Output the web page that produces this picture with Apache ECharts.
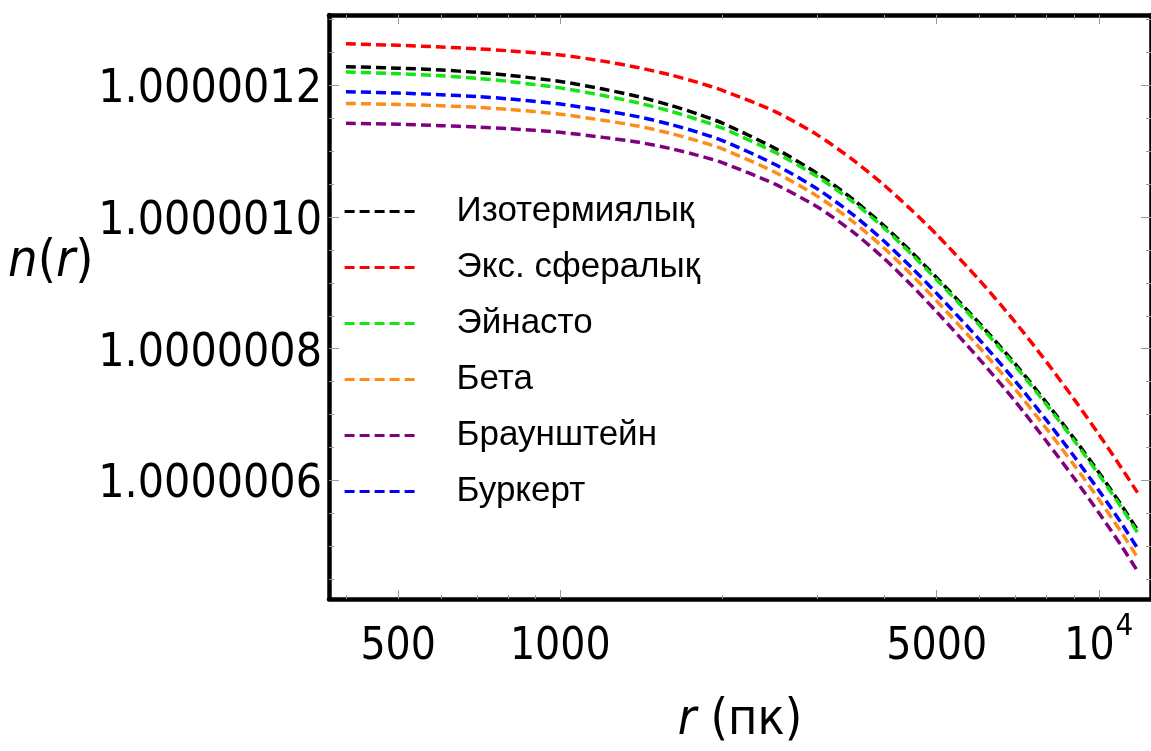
<!DOCTYPE html>
<html>
<head>
<meta charset="utf-8">
<script src="https://cdn.jsdelivr.net/npm/echarts@6/dist/echarts.min.js"></script>
<style>
  html, body { margin: 0; padding: 0; background: #ffffff; }
  #chart { width: 1151px; height: 751px; }
</style>
</head>
<body>
<div id="chart"></div>
<script>
// Radius grid (pc) shared by all profiles
const radii = [400, 500, 600, 700, 800, 1000, 1200, 1400, 1600, 1800, 2000, 2500,
               3000, 3500, 4000, 4500, 5000, 6000, 7000, 8000, 9000, 10000, 11000, 11800];

// Refractive index n(r) for each dark-matter halo profile
const nIsothermal = [1.0000012287, 1.0000012264, 1.0000012236, 1.0000012199, 1.0000012157, 1.0000012062,
                     1.0000011946, 1.0000011829, 1.0000011701, 1.0000011567, 1.0000011429, 1.0000011049,
                     1.0000010664, 1.0000010266, 1.0000009860, 1.0000009460, 1.0000009079, 1.0000008388,
                     1.0000007766, 1.0000007177, 1.0000006634, 1.0000006121, 1.0000005630, 1.0000005245];
const nExpSpherical = [1.0000012634, 1.0000012611, 1.0000012586, 1.0000012559, 1.0000012528, 1.0000012465,
                       1.0000012371, 1.0000012270, 1.0000012162, 1.0000012047, 1.0000011926, 1.0000011608,
                       1.0000011250, 1.0000010866, 1.0000010480, 1.0000010100, 1.0000009734, 1.0000009043,
                       1.0000008400, 1.0000007796, 1.0000007230, 1.0000006699, 1.0000006196, 1.0000005813];
const nEinasto = [1.0000012204, 1.0000012180, 1.0000012148, 1.0000012109, 1.0000012063, 1.0000011964,
                  1.0000011848, 1.0000011734, 1.0000011611, 1.0000011482, 1.0000011351, 1.0000010986,
                  1.0000010616, 1.0000010228, 1.0000009829, 1.0000009429, 1.0000009049, 1.0000008358,
                  1.0000007736, 1.0000007147, 1.0000006604, 1.0000006088, 1.0000005594, 1.0000005206];
const nBeta = [1.0000011728, 1.0000011713, 1.0000011692, 1.0000011668, 1.0000011638, 1.0000011564,
               1.0000011472, 1.0000011381, 1.0000011274, 1.0000011158, 1.0000011036, 1.0000010685,
               1.0000010319, 1.0000009928, 1.0000009522, 1.0000009116, 1.0000008726, 1.0000008018,
               1.0000007381, 1.0000006782, 1.0000006231, 1.0000005712, 1.0000005217, 1.0000004826];
const nBraunstein = [1.0000011426, 1.0000011411, 1.0000011390, 1.0000011369, 1.0000011345, 1.0000011288,
                     1.0000011212, 1.0000011137, 1.0000011043, 1.0000010939, 1.0000010827, 1.0000010504,
                     1.0000010156, 1.0000009771, 1.0000009365, 1.0000008956, 1.0000008560, 1.0000007843,
                     1.0000007197, 1.0000006589, 1.0000006032, 1.0000005508, 1.0000005011, 1.0000004620];
const nBurkert = [1.0000011905, 1.0000011885, 1.0000011861, 1.0000011832, 1.0000011798, 1.0000011718,
                  1.0000011620, 1.0000011523, 1.0000011411, 1.0000011291, 1.0000011164, 1.0000010803,
                  1.0000010429, 1.0000010035, 1.0000009629, 1.0000009226, 1.0000008841, 1.0000008139,
                  1.0000007506, 1.0000006910, 1.0000006362, 1.0000005846, 1.0000005354, 1.0000004968];

const seriesNames = ['Изотермиялық', 'Экс. сфералық', 'Эйнасто', 'Бета', 'Браунштейн', 'Буркерт'];

// Tick values
const xMajorTicks = [500, 1000, 5000, 10000];
const xMinorTicks = [400, 600, 700, 800, 900, 2000, 3000, 4000, 6000, 7000, 8000, 9000];
const yMajorTicks = [1.0000006, 1.0000008, 1.0000010, 1.0000012];
const yMinorTicks = [1.00000045, 1.00000050, 1.00000055, 1.00000065, 1.00000070, 1.00000075,
                     1.00000085, 1.00000090, 1.00000095, 1.00000105, 1.00000110, 1.00000115,
                     1.00000125, 1.00000130];

const X_MIN = 372, X_MAX = 12500;
const Y_MIN = 1.00000041962, Y_MAX = 1.00000130717;

const tickFont = '"DejaVu Sans Condensed", "DejaVu Sans", sans-serif';
const textFont = '"Liberation Sans", Arial, sans-serif';

const palette = {
  'Изотермиялық': '#000000',
  'Экс. сфералық': '#ff0000',
  'Эйнасто': '#11e611',
  'Бета': '#ff8c1a',
  'Браунштейн': '#800080',
  'Буркерт': '#0000ff'
};
const profiles = [nIsothermal, nExpSpherical, nEinasto, nBeta, nBraunstein, nBurkert];

const frameLine = { show: true, onZero: false, lineStyle: { color: '#000', width: 4.5 } };
const noLine = { show: false };

function xAxisDef(position, ticks, len, withLine, withLabels) {
  const ax = {
    type: 'log',
    logBase: 10,
    position: position,
    min: X_MIN,
    max: X_MAX,
    axisLine: withLine ? frameLine : noLine,
    splitLine: { show: false },
    minorTick: { show: false },
    axisTick: { show: true, inside: true, length: len, customValues: ticks,
                lineStyle: { color: '#9a9a9a', width: 1 } },
    axisLabel: { show: false }
  };
  if (withLabels) {
    ax.axisLabel = {
      show: true,
      customValues: ticks,
      margin: 12,
      color: '#000',
      formatter: function (v) {
        const r = Math.round(v);
        if (r === 10000) return '{b|10}{s|4}';
        return '{b|' + r + '}';
      },
      rich: {
        b: { fontFamily: tickFont, fontSize: 44, lineHeight: 74, color: '#000' },
        s: { fontFamily: tickFont, fontSize: 31, verticalAlign: 'top', color: '#000', padding: [0, 0, 0, 1] }
      }
    };
    ax.name = '{i|r} (пк)';
    ax.nameLocation = 'middle';
    ax.nameGap = 97;
    ax.nameTextStyle = {
      fontFamily: tickFont, fontSize: 50, color: '#000',
      rich: { i: { fontFamily: tickFont, fontSize: 50, fontStyle: 'italic', color: '#000' } }
    };
  }
  return ax;
}

function yAxisDef(position, ticks, len, withLine, withLabels) {
  const ax = {
    type: 'value',
    position: position,
    min: Y_MIN,
    max: Y_MAX,
    scale: true,
    axisLine: withLine ? frameLine : noLine,
    splitLine: { show: false },
    minorTick: { show: false },
    axisTick: { show: true, inside: true, length: len, customValues: ticks,
                lineStyle: { color: '#9a9a9a', width: 1 } },
    axisLabel: { show: false }
  };
  if (withLabels) {
    ax.axisLabel = {
      show: true,
      customValues: ticks,
      margin: 7,
      color: '#000',
      formatter: function (v) { return '{v|' + v.toFixed(7) + '}'; },
      rich: {
        v: { fontFamily: tickFont, fontSize: 46, color: '#000', padding: [10, 0, 0, 0] }
      }
    };
  }
  return ax;
}

const chart = echarts.init(document.getElementById('chart'), null, { renderer: 'canvas' });

const option = {
  animation: false,
  backgroundColor: '#ffffff',
  grid: { left: 329, right: -7, top: 15, bottom: 148, containLabel: false },
  xAxis: [
    xAxisDef('bottom', xMajorTicks, 9, true, true),
    xAxisDef('top', xMajorTicks, 9, true, false),
    xAxisDef('bottom', xMinorTicks, 4, false, false),
    xAxisDef('top', xMinorTicks, 4, false, false)
  ],
  yAxis: [
    yAxisDef('left', yMajorTicks, 10, true, true),
    yAxisDef('right', yMajorTicks, 10, true, false),
    yAxisDef('left', yMinorTicks, 5, false, false),
    yAxisDef('right', yMinorTicks, 5, false, false)
  ],
  legend: {
    orient: 'vertical',
    left: 343,
    top: 194,
    padding: 0,
    itemWidth: 74,
    itemHeight: 14,
    itemGap: 21,
    data: seriesNames,
    itemStyle: { opacity: 0 },
    lineStyle: { width: 3.2 },
    textStyle: { fontFamily: textFont, fontSize: 35, color: '#000', padding: [0, 0, 0, 33] }
  },
  graphic: [
    {
      type: 'text',
      left: 8,
      top: 236,
      style: {
        text: '{i|n}{u|(}{i|r}{u|)}',
        rich: {
          i: { fontFamily: tickFont, fontSize: 52, fontStyle: 'italic', fill: '#000' },
          u: { fontFamily: tickFont, fontSize: 52, fill: '#000' }
        }
      }
    }
  ],
  series: seriesNames.map(function (name, i) {
    return {
      name: name,
      type: 'line',
      xAxisIndex: 0,
      yAxisIndex: 0,
      smooth: 0.25,
      symbol: 'none',
      itemStyle: { color: palette[name], opacity: 0 },
      lineStyle: { color: palette[name], width: 3.5, type: [10, 5] },
      data: radii.map(function (r, k) { return [r, profiles[i][k]]; })
    };
  })
};

chart.setOption(option);
</script>
</body>
</html>
